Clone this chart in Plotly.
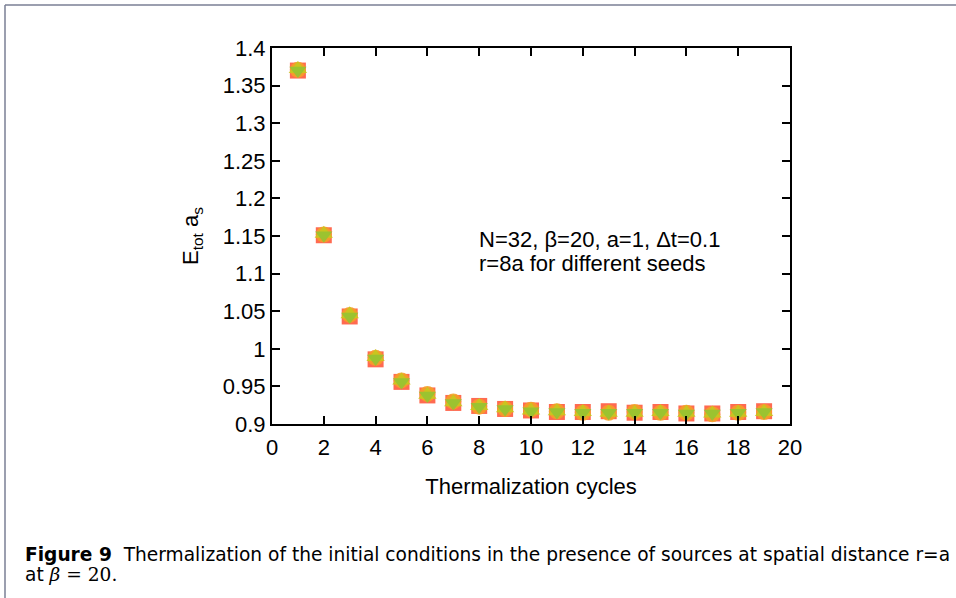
import plotly.graph_objects as go

cycles = list(range(1, 20))
seed1 = [1.370, 1.151, 1.043, 0.986, 0.956, 0.938, 0.928, 0.924, 0.920, 0.918, 0.916, 0.916, 0.917, 0.915, 0.916, 0.914, 0.914, 0.916, 0.917]
seed2 = [1.371, 1.152, 1.045, 0.988, 0.958, 0.940, 0.930, 0.923, 0.920, 0.919, 0.917, 0.915, 0.915, 0.916, 0.915, 0.915, 0.913, 0.915, 0.916]
seed3 = [1.372, 1.153, 1.046, 0.989, 0.958, 0.939, 0.929, 0.924, 0.921, 0.918, 0.917, 0.916, 0.915, 0.915, 0.916, 0.915, 0.914, 0.915, 0.916]
seed4 = [1.370, 1.151, 1.043, 0.987, 0.956, 0.938, 0.928, 0.923, 0.920, 0.917, 0.916, 0.915, 0.915, 0.915, 0.915, 0.914, 0.914, 0.915, 0.916]

x_ticks = list(range(0, 21, 2))
y_ticks = [0.9, 0.95, 1.0, 1.05, 1.1, 1.15, 1.2, 1.25, 1.3, 1.35, 1.4]
y_ticklabels = ["0.9", "0.95", "1", "1.05", "1.1", "1.15", "1.2", "1.25", "1.3", "1.35", "1.4"]

series = [
    (seed1, "square", "rgba(255,80,50,0.85)", 16),
    (seed2, "circle", "rgba(245,160,40,0.9)", 16),
    (seed3, "triangle-up", "rgba(200,200,30,0.9)", 16),
    (seed4, "triangle-down", "rgba(150,195,50,0.9)", 15),
]

FONT = "Liberation Sans, Arial"
FS = 22

fig = go.Figure()
for vals, sym, col, sz in series:
    fig.add_trace(go.Scatter(x=cycles, y=vals, mode="markers",
                             marker=dict(symbol=sym, color=col, size=sz, line=dict(width=0)),
                             showlegend=False))

axis_common = dict(showline=True, linecolor="black", linewidth=2, mirror="ticks",
                   ticks="inside", ticklen=8, tickwidth=1.5, tickcolor="black",
                   showgrid=False, zeroline=False,
                   tickfont=dict(family=FONT, size=FS, color="black"))

fig.update_xaxes(range=[0, 20], tickvals=x_ticks, ticklabelstandoff=3, **axis_common,
                 title=dict(text="Thermalization cycles", standoff=19,
                            font=dict(family=FONT, size=FS, color="black")))
fig.update_yaxes(range=[0.9, 1.4], tickvals=y_ticks, ticktext=y_ticklabels, **axis_common,
                 title=dict(text="E<sub>tot</sub> a<sub>s</sub>", standoff=18,
                            font=dict(family=FONT, size=FS, color="black")))

W, H = 956, 598
L, R, T, B = 272, 790, 48, 424
pw, ph = R - L, B - T

def px(x):
    return (x - L) / pw

def py(y):
    return (B - y) / ph

fig.add_annotation(x=px(477), y=py(239), xref="paper", yref="paper", xanchor="left", yanchor="middle",
                   text="N=32, β=20, a=1, Δt=0.1", showarrow=False,
                   font=dict(family=FONT, size=FS, color="black"))
fig.add_annotation(x=px(477), y=py(263), xref="paper", yref="paper", xanchor="left", yanchor="middle",
                   text="r=8a for different seeds", showarrow=False,
                   font=dict(family=FONT, size=FS, color="black"))

CAP = "DejaVu Sans"
CFS = 18.6
fig.add_annotation(x=px(23), y=py(554), xref="paper", yref="paper", xanchor="left", yanchor="middle",
                   text="<b>Figure 9</b>  Thermalization of the initial conditions in the presence of sources at spatial distance r=a",
                   showarrow=False,
                   font=dict(family=CAP, size=CFS, color="black"))
fig.add_annotation(x=px(23), y=py(574), xref="paper", yref="paper", xanchor="left", yanchor="middle",
                   text="at <span style=\"font-family:DejaVu Serif\"><i>β</i> = 20.</span>", showarrow=False,
                   font=dict(family=CAP, size=CFS, color="black"))

fig.add_shape(type="line", xref="paper", yref="paper", x0=px(5), x1=px(956), y0=py(5), y1=py(5),
              line=dict(color="#7a7f95", width=1.5))
fig.add_shape(type="line", xref="paper", yref="paper", x0=px(5), x1=px(5), y0=py(5), y1=py(598),
              line=dict(color="#7a7f95", width=1.5))

fig.update_layout(width=W, height=H, margin=dict(l=L, r=W - R, t=T, b=H - B),
                  plot_bgcolor="white", paper_bgcolor="white")

fig.write_html("out.html", config={"displayModeBar": False},
               post_script="document.body.style.margin='0';document.body.style.overflow='hidden';")
